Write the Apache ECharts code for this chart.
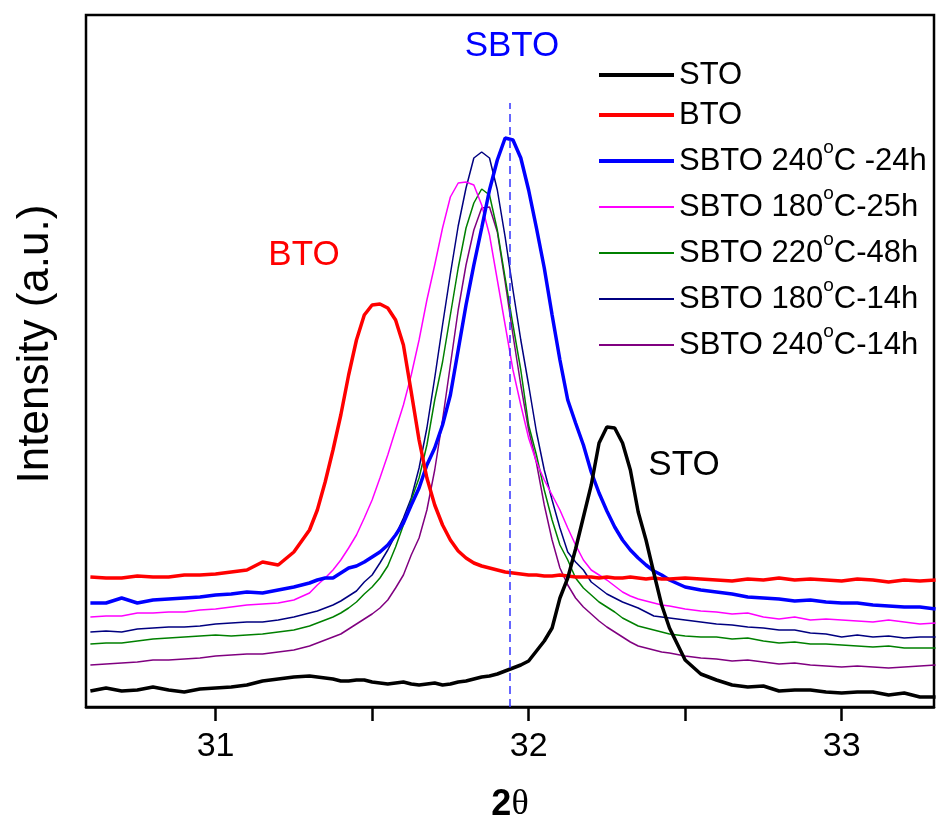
<!DOCTYPE html>
<html>
<head>
<meta charset="utf-8">
<script src="https://cdn.jsdelivr.net/npm/echarts@6/dist/echarts.min.js"></script>
<style>
html,body{margin:0;padding:0;background:#fff;}
#chart{width:937px;height:830px;}
</style>
</head>
<body>
<div id="chart"></div>
<script>
// 2θ positions (deg)
const xs = [30.6,30.65,30.7,30.75,30.8,30.85,30.9,30.95,31,31.05,31.1,31.15,31.2,31.25,
31.3,31.325,31.35,31.375,31.4,31.425,31.45,31.475,31.5,31.525,31.55,31.575,31.6,31.625,31.65,31.675,31.7,31.725,31.75,31.775,31.8,31.825,31.85,31.875,31.9,31.925,31.95,31.975,32,32.025,32.05,32.075,32.1,32.125,32.15,32.175,32.2,32.225,32.25,32.275,32.3,32.325,32.35,32.375,32.4,32.425,32.45,
32.5,32.55,32.6,32.65,32.7,32.75,32.8,32.85,32.9,32.95,33,33.05,33.1,33.15,33.2,33.25,33.3];

// intensities (a.u., stacked offsets as in the figure)
const sto = [16,19,16,17,20,17,15,18,19,20,22,26,28,30,
31,30,29,28,26,26,27,27,25,24,23,24,25,23,22,23,24,22,23,25,26,28,30,31,33,36,39,42,46,56,66,79,109,129,158,190,222,264,280,279,264,237,195,167,134,102,79,
47,33,27,22,20,21,16,17,17,15,14,15,15,12,14,10,10];
const bto = [130,129,129,131,130,130,132,132,133,135,137,145,142,155,
177,197,225,257,292,332,367,392,402,403,399,387,362,315,267,229,202,182,167,156,149,144,141,139,137,135,134,133,132,132,131,131,132,131,130,130,130,129,130,129,129,130,129,128,129,128,128,
129,128,127,126,128,127,129,127,128,127,126,128,127,125,127,126,127];
const sbto240_24 = [104,104,109,104,107,108,109,110,112,113,115,114,117,120,
124,127,129,129,134,139,141,145,150,155,162,172,184,202,219,242,259,282,312,357,402,442,479,517,547,569,567,549,517,479,439,392,347,307,284,262,235,214,196,180,167,157,149,142,136,132,127,
120,117,115,113,110,109,108,106,107,105,104,104,102,101,100,100,98];
const sbto180_25 = [90,91,91,94,94,95,95,97,98,100,102,103,104,107,
114,122,129,137,147,159,172,189,207,229,252,277,302,332,367,407,442,479,510,524,525,522,502,472,427,382,337,302,269,245,227,212,197,179,162,147,137,132,127,121,115,111,108,106,104,102,101,
98,96,95,93,94,90,88,90,87,88,87,86,85,87,85,83,84];
const sbto220_48 = [63,64,64,66,68,69,70,71,72,71,72,73,75,77,
81,84,87,90,94,99,105,113,120,129,141,160,182,207,229,262,307,345,392,439,479,504,518,512,477,429,382,337,282,252,217,187,162,147,129,119,112,105,100,95,89,85,81,79,77,75,73,
71,70,70,68,69,66,64,65,63,63,62,61,60,61,59,59,59];
const sbto180_14 = [75,76,75,78,79,80,80,81,83,84,85,85,87,90,
94,96,99,102,106,111,116,125,132,144,157,172,189,209,239,279,329,382,433,481,519,549,555,549,517,470,417,367,322,275,237,207,179,155,145,137,125,119,113,109,105,102,99,95,91,90,89,
87,85,83,82,80,79,77,77,74,73,70,72,70,71,69,70,70];
const sbto240_14 = [42,43,44,45,47,47,48,49,51,52,53,53,55,57,
61,64,67,70,73,78,83,88,93,99,107,119,132,152,169,197,237,287,342,397,442,477,499,500,475,425,372,322,277,244,202,167,139,122,109,100,93,86,80,75,70,65,61,59,57,55,54,
51,49,48,46,47,45,43,44,42,41,40,41,40,39,40,41,42];

const tickValues = [31, 31.5, 32, 32.5, 33];
const labelValues = [31, 32, 33];
const sbtoPos = 31.94;      // reference line position
const sbtoLineTop = 604;    // top of dashed line (intensity units)

const names = ['STO','BTO','SBTO 240°C -24h','SBTO 180°C-25h','SBTO 220°C-48h','SBTO 180°C-14h','SBTO 240°C-14h'];
const colors = ['#000000','#ff0000','#0000ff','#ff00ff','#008000','#000080','#800080'];
const widths = [3.5,3.5,3.5,1.5,1.5,1.5,1.5];
const FONT = 'Liberation Sans, Arial, sans-serif';

function pairs(ys){ return xs.map((x,i)=>[x, ys[i]]); }
function mk(i, ys, extra){
  return Object.assign({
    name:names[i], type:'line', data: pairs(ys), symbol:'none', smooth:false,
    lineStyle:{color:colors[i], width:widths[i]}, itemStyle:{color:colors[i]}, clip:true
  }, extra||{});
}
function legendItem(i){
  return {name:names[i], lineStyle:{width:widths[i]+0.5, color:colors[i]}, itemStyle:{opacity:0}};
}
function supFmt(n){ return n.replace('°','{s|o}'); }

const chart = echarts.init(document.getElementById('chart'), null, {renderer:'canvas'});
chart.setOption({
  animation:false,
  backgroundColor:'#fff',
  grid:{left:86, right:3, top:15, bottom:123, show:true, borderColor:'#000', borderWidth:2.5, backgroundColor:'transparent'},
  xAxis:{
    type:'value', min:30.586, max:33.295,
    axisLine:{show:true, lineStyle:{color:'#000', width:2.5}},
    axisTick:{show:true, customValues:tickValues, inside:false, length:14, lineStyle:{color:'#000', width:2.5}},
    axisLabel:{show:true, customValues:labelValues, margin:23, color:'#000', fontSize:34, fontFamily:FONT, formatter:v=>String(v)},
    splitLine:{show:false},
    name:'{b|2}{t|θ}', nameLocation:'middle', nameGap:80,
    nameTextStyle:{rich:{
      b:{fontSize:36, fontWeight:'bold', fontFamily:FONT, color:'#000'},
      t:{fontSize:36, fontFamily:'Liberation Serif, serif', color:'#000'}
    }}
  },
  yAxis:{
    type:'value', min:0, max:692,
    axisLine:{show:false}, axisTick:{show:false}, axisLabel:{show:false}, splitLine:{show:false}
  },
  legend:[
    {data:[0,1].map(legendItem), orient:'vertical', left:597, top:55, padding:0, itemGap:0,
     itemWidth:75, itemHeight:4, selectedMode:false, itemStyle:{opacity:0},
     textStyle:{fontSize:31, lineHeight:40, color:'#000', fontFamily:FONT}},
    {data:[2,3,4,5,6].map(legendItem), orient:'vertical', left:597, top:138, padding:0, itemGap:0,
     itemWidth:75, itemHeight:4, selectedMode:false, itemStyle:{opacity:0},
     formatter:supFmt,
     textStyle:{fontSize:31, lineHeight:46, color:'#000', fontFamily:FONT,
       rich:{s:{fontSize:19, lineHeight:30, verticalAlign:'top', color:'#000', fontFamily:FONT}}}}
  ],
  graphic:[
    {type:'text', x:36, y:344, rotation:Math.PI/2, style:{text:'Intensity (a.u.)', fill:'#000', font:'44px '+FONT, textAlign:'center', textVerticalAlign:'middle'}},
    {type:'text', x:512, y:46, style:{text:'SBTO', fill:'#0000ff', font:'35px '+FONT, textAlign:'center', textVerticalAlign:'middle'}},
    {type:'text', x:304, y:255, style:{text:'BTO', fill:'#ff0000', font:'35px '+FONT, textAlign:'center', textVerticalAlign:'middle'}},
    {type:'text', x:684, y:465, style:{text:'STO', fill:'#000', font:'35px '+FONT, textAlign:'center', textVerticalAlign:'middle'}}
  ],
  series:[
    mk(6, sbto240_14),
    mk(5, sbto180_14),
    mk(4, sbto220_48),
    mk(3, sbto180_25),
    mk(2, sbto240_24, {
      markLine:{silent:true, symbol:'none', label:{show:false},
        lineStyle:{type:[8,5], color:'#3333ff', width:1.5},
        data:[[{coord:[sbtoPos,0]},{coord:[sbtoPos,sbtoLineTop]}]]}
    }),
    mk(1, bto),
    mk(0, sto)
  ]
});
</script>
</body>
</html>
